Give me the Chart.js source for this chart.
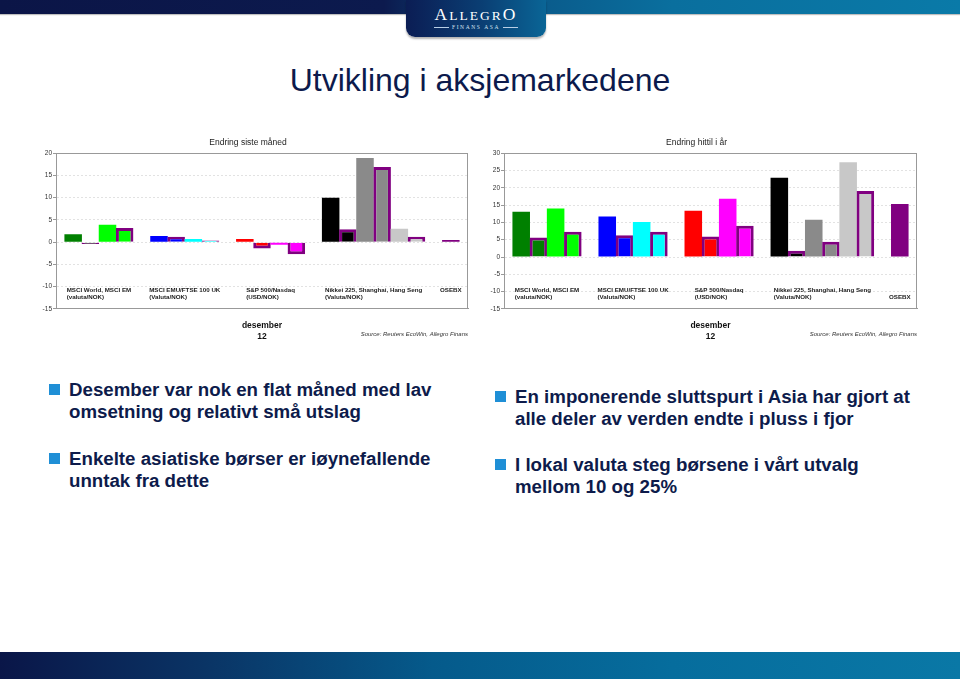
<!DOCTYPE html>
<html>
<head>
<meta charset="utf-8">
<script src="https://cdn.jsdelivr.net/npm/chart.js@4.4.0/dist/chart.umd.min.js"></script>
<style>
  body { margin: 0; width: 960px; height: 679px; background: #fff; position: relative; overflow: hidden; font-family: "Liberation Sans", Arial, sans-serif; }
  .topbar { position: absolute; left: 0; top: 0; width: 960px; height: 14px;
    background: linear-gradient(90deg, #0b1547 0%, #0c1a4e 40%, #0a5586 52%, #0a6f9e 70%, #0a7aa8 100%);
    box-shadow: 0 1px 1px rgba(0,0,0,0.25); }
  .logo { position: absolute; left: 406px; top: 0; width: 140px; height: 37px; border-radius: 0 0 9px 9px;
    background: linear-gradient(90deg, #0b1d54 0%, #0a3f74 55%, #0a6596 100%);
    box-shadow: 0 2px 2px rgba(0,0,0,0.3); color: #fff; text-align: center; font-family: "Liberation Serif", "DejaVu Serif", serif; }
  .logo .name { position: absolute; left: 0; right: 0; top: 6px; font-size: 13.5px; letter-spacing: 2px; line-height: 16px; }
  .logo .name b { font-weight: normal; font-size: 17.5px; }
  .logo .sub { position: absolute; left: 0; right: 0; top: 23px; font-size: 5.5px; letter-spacing: 1.6px; color: #d6e4f2; line-height: 8px; }
  .logo .sub i { display: inline-block; width: 15px; height: 1px; background: #b9cfe6; vertical-align: middle; margin: 0 3px; }
  h1 { position: absolute; left: 0; top: 61px; width: 960px; margin: 0; text-align: center; font-weight: normal; font-size: 32px; line-height: 38px; color: #0c1a4c; }
  canvas { position: absolute; }
  .bullets { position: absolute; color: #0d1b4b; font-weight: bold; font-size: 18.7px; line-height: 22px; white-space: nowrap; }
  .bullets p { margin: 0; position: absolute; left: 0; }
  .bullets p::before { content: ""; position: absolute; left: -20px; top: 5px; width: 11px; height: 11px; background: #1f8fd6; }
  .bottombar { position: absolute; left: 0; top: 652px; width: 960px; height: 27px;
    background: linear-gradient(90deg, #0a1648 0%, #0a3566 22%, #055a8b 45%, #066d9d 70%, #0a78a6 100%); }
</style>
</head>
<body>
<div class="topbar"></div>
<div class="logo"><div class="name"><b>A</b>LLEGR<b>O</b></div><div class="sub"><i></i>FINANS ASA<i></i></div></div>
<h1>Utvikling i aksjemarkedene</h1>
<canvas id="monthChart" width="450" height="220" style="left:28px;top:132px"></canvas>
<canvas id="ytdChart" width="451" height="220" style="left:476px;top:132px"></canvas>
<div class="bullets" style="left:69px;top:379px">
  <p style="top:0">Desember var nok en flat måned med lav<br>omsetning og relativt små utslag</p>
  <p style="top:69px">Enkelte asiatiske børser er iøynefallende<br>unntak fra dette</p>
</div>
<div class="bullets" style="left:515px;top:386px">
  <p style="top:0">En imponerende sluttspurt i Asia har gjort at<br>alle deler av verden endte i pluss i fjor</p>
  <p style="top:68px">I lokal valuta steg børsene i vårt utvalg<br>mellom 10 og 25%</p>
</div>
<div class="bottombar"></div>
<script>
// indices, in drawing order; each one has a local bar and a NOK bar (purple outline)
const indices = ['MSCI World', 'MSCI EM', 'MSCI EMU', 'FTSE 100', 'S&P 500', 'Nasdaq', 'Nikkei 225', 'Shanghai', 'Hang Seng', 'OSEBX'];
const indexGroup = [0, 0, 1, 1, 2, 2, 3, 3, 3, 4];
const indexColors = ['#008000', '#00ff00', '#0000ff', '#00ffff', '#ff0000', '#ff00ff', '#000000', '#8a8a8a', '#c8c8c8', '#800080'];

// group labels under the bars
const monthGroupLabels = [['MSCI World, MSCI EM', '(valuta/NOK)'], ['MSCI EMU/FTSE 100 UK', '(Valuta/NOK)'], ['S&P 500/Nasdaq', '(USD/NOK)'], ['Nikkei 225, Shanghai, Hang Seng', '(Valuta/NOK)'], ['OSEBX']];
const ytdGroupLabels = [['MSCI World, MSCI EM', '(valuta/NOK)'], ['MSCI EMU/FTSE 100 UK', '(Valuta/NOK)'], ['S&P 500/Nasdaq', '(USD/NOK)'], ['Nikkei 225, Shanghai, Hang Seng', '(Valuta/NOK)'], ['', 'OSEBX']];

// Endring siste måned (%)
const monthLocal = [1.8, 3.9, 1.4, 0.7, 0.7, -0.6, 10.0, 18.9, 3.0, 0.5];
const monthNok = [-0.4, 3.2, 1.2, 0.4, -1.4, -2.7, 2.9, 16.9, 1.2, null];
// Endring hittil i år (%)
const ytdLocal = [13.1, 14.0, 11.7, 10.1, 13.4, 16.8, 22.9, 10.8, 27.4, 15.3];
const ytdNok = [5.6, 7.3, 6.3, 7.3, 5.9, 9.0, 1.8, 4.4, 19.1, null];

const xTitle = ['desember', '12'];
const sourceText = 'Source: Reuters EcoWin, Allegro Finans';
const nokBorder = '#800080';

Chart.defaults.font.family = '"Liberation Sans", Arial, sans-serif';

// lay the bars out in slots, one empty slot between groups
function buildBars(local, nok) {
  const points = [], bg = [], bc = [], bw = [], groupSlots = [];
  let slot = 0;
  monthGroupLabels.forEach((g, gi) => {
    if (gi > 0) slot++;
    groupSlots[gi] = [];
    indexGroup.forEach((ig, k) => {
      if (ig !== gi) return;
      points.push({ x: slot, y: local[k] }); bg.push(indexColors[k]); bc.push('rgba(0,0,0,0)'); bw.push(0);
      groupSlots[gi].push(slot++);
      if (nok[k] !== null) {
        points.push({ x: slot, y: nok[k] }); bg.push(indexColors[k]); bc.push(nokBorder); bw.push(3);
        groupSlots[gi].push(slot++);
      }
    });
  });
  return { points, bg, bc, bw, groupSlots, slots: slot };
}

const slidePlugin = {
  id: 'slide',
  afterDatasetsDraw(chart, args, opts) {
    const { ctx, chartArea: a, scales: { x } } = chart;
    ctx.save();
    ctx.strokeStyle = '#999';
    ctx.lineWidth = 1;
    ctx.strokeRect(Math.round(a.left) + 0.5, Math.round(a.top) + 0.5, Math.round(a.width) - 1, Math.round(a.height) - 1);
    ctx.fillStyle = '#222';
    ctx.textBaseline = 'middle';
    ctx.textAlign = 'left';
    ctx.font = 'bold 6.2px "Liberation Sans", Arial, sans-serif';
    opts.labels.forEach((lines, g) => {
      const s = opts.groupSlots[g];
      const cx = (x.getPixelForValue(s[0]) + x.getPixelForValue(s[s.length - 1])) / 2;
      const w = Math.max(...lines.map(l => ctx.measureText(l).width));
      lines.forEach((l, i) => ctx.fillText(l, cx - w / 2, a.bottom - 19 + i * 7.5));
    });
    ctx.textAlign = 'right';
    ctx.fillStyle = '#333';
    ctx.font = 'italic 6px "Liberation Sans", Arial, sans-serif';
    ctx.fillText(sourceText, a.right, a.bottom + 25);
    ctx.restore();
  }
};

function makeChart(id, title, local, nok, labels, yMax) {
  const b = buildBars(local, nok);
  return new Chart(document.getElementById(id), {
    type: 'bar',
    data: {
      datasets: [{
        data: b.points,
        backgroundColor: b.bg,
        borderColor: b.bc,
        borderWidth: b.bw,
        barPercentage: 1.02,
        categoryPercentage: 1
      }]
    },
    options: {
      responsive: false,
      animation: false,
      devicePixelRatio: 1,
      layout: { padding: { left: 0, right: 10, top: 0, bottom: 6 } },
      scales: {
        x: {
          type: 'linear', min: -1, max: b.slots, offset: false,
          ticks: { display: false, stepSize: 1 },
          grid: { display: false },
          border: { display: true, color: '#999' },
          title: { display: true, text: xTitle, color: '#111', font: { size: 8.5, weight: 'bold', lineHeight: 1.3 }, padding: { top: 3, bottom: 4 } }
        },
        y: {
          min: -15, max: yMax,
          afterFit(s) { s.width = 28; },
          ticks: { stepSize: 5, color: '#333', font: { size: 6.5 }, padding: 1 },
          grid: { color: '#e2e2e2', tickColor: '#999', tickLength: 3 },
          border: { color: '#999', dash: [2, 2] }
        }
      },
      plugins: {
        legend: { display: false },
        tooltip: { enabled: false },
        title: { display: true, text: title, color: '#222', font: { size: 8.5, weight: 'normal' }, padding: { top: 6, bottom: 5 } },
        slide: { labels: labels, groupSlots: b.groupSlots }
      }
    },
    plugins: [slidePlugin]
  });
}

makeChart('monthChart', 'Endring siste måned', monthLocal, monthNok, monthGroupLabels, 20);
makeChart('ytdChart', 'Endring hittil i år', ytdLocal, ytdNok, ytdGroupLabels, 30);
</script>
</body>
</html>
